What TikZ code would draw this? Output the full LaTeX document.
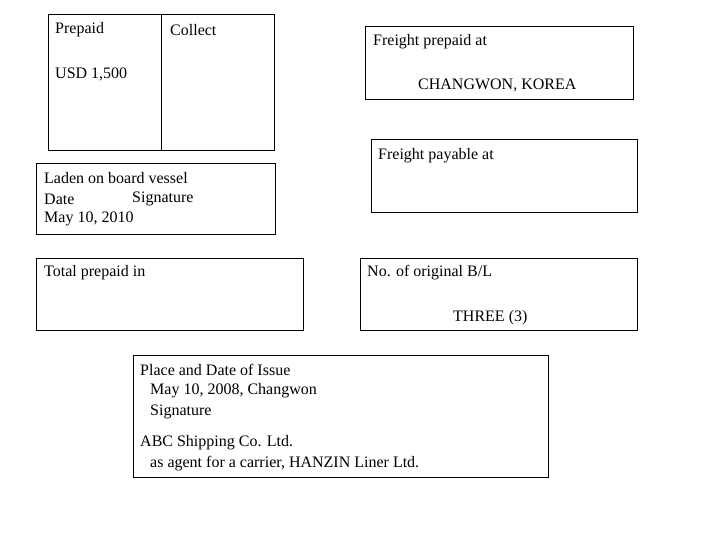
\documentclass[tikz,border=0pt]{standalone}
\usepackage{fontspec}
\setmainfont{Liberation Serif}
\begin{document}
\begin{tikzpicture}[x=1pt,y=-1pt,
  box/.style={draw=black,line width=0.8pt},
  txt/.style={anchor=west,inner sep=0pt,font=\fontsize{16}{19}\selectfont}]
\useasboundingbox (0,0) rectangle (720,540);
\draw[box] (48,14) rectangle (274,150);
\draw[box] (161,14) -- (161,150);
\node[txt] (pp) at (55,30) {Prepaid};
\node[txt] (co) at (170,30) {Collect};
\node[txt] (usd) at (55,74) {USD 1,500};
\draw[box] (365,26) rectangle (633,99);
\node[txt] (fpa) at (373,42) {Freight prepaid at};
\node[txt] (cw) at (418,85) {CHANGWON, KOREA};
\draw[box] (371,139) rectangle (637,212);
\node[txt] (fpy) at (378,156) {Freight payable at};
\draw[box] (36,163) rectangle (275,234);
\node[txt] (l1) at (44,178) {Laden on board vessel};
\node[txt] (l2) at (44,199) {Date};
\node[txt] (l2b) at (132,199) {Signature};
\node[txt] (l3) at (44,219) {May 10, 2010};
\draw[box] (36,258) rectangle (303,330);
\node[txt] (tp) at (44,273) {Total prepaid in};
\draw[box] (360,258) rectangle (637,330);
\node[txt] (no) at (367,273) {No. of original B/L};
\node[txt] (th) at (453,318) {THREE (3)};
\draw[box] (133,355) rectangle (548,477);
\node[txt] (p1) at (140,370) {Place and Date of Issue};
\node[txt] (p2) at (150,391) {May 10, 2008, Changwon};
\node[txt] (p3) at (150,412) {Signature};
\node[txt] (p4) at (140,443) {ABC Shipping Co. Ltd.};
\node[txt] (p5) at (150,464) {as agent for a carrier, HANZIN Liner Ltd.};
\end{tikzpicture}
\end{document}
